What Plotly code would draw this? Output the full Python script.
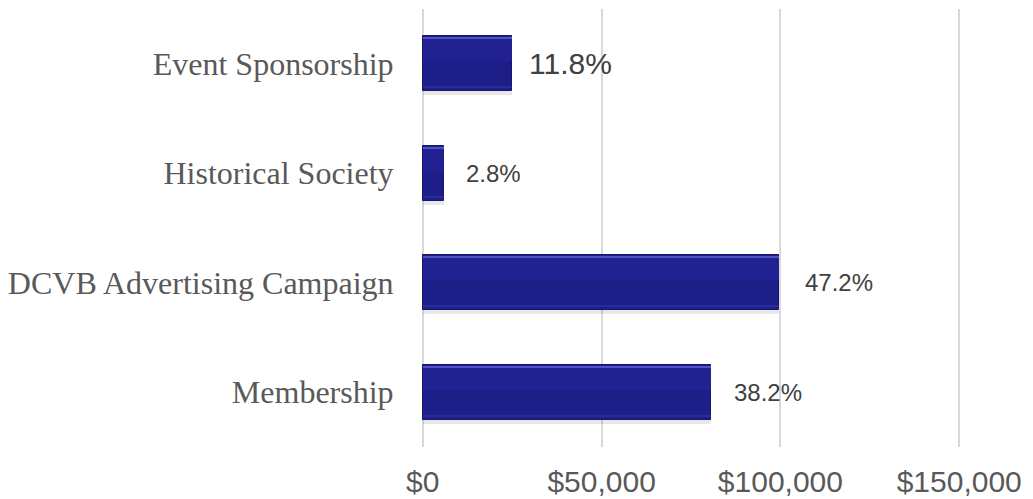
import plotly.graph_objects as go

# Marketing spend by program (USD), listed top to bottom
categories = ["Event Sponsorship", "Historical Society", "DCVB Advertising Campaign", "Membership"]
spend = [24900, 5900, 99700, 80700]
label_sizes = [30, 24, 24, 24]
label_gaps = [15, 20, 24, 21]

x_ticks = [0, 50000, 100000, 150000]
x_tick_labels = ["$0", "$50,000", "$100,000", "$150,000"]

total = sum(spend)
shares = [v / total * 100 for v in spend]

BAR_W = 0.5
PX = 1 / 109.5  # one pixel in category units

fig = go.Figure()

# soft drop shadow under each bar
fig.add_trace(go.Bar(
    y=categories, x=spend, orientation="h",
    width=BAR_W, offset=-BAR_W / 2 + 4 * PX,
    marker=dict(color="rgba(0,0,0,0.09)", line=dict(width=0)),
    hoverinfo="skip", showlegend=False,
))
# bar body
fig.add_trace(go.Bar(
    y=categories, x=spend, orientation="h",
    width=BAR_W, offset=-BAR_W / 2,
    marker=dict(color="#1e1e88", line=dict(color="#16166c", width=1)),
    hoverinfo="skip", showlegend=False,
))
# upper part a touch lighter for the bevelled look
fig.add_trace(go.Bar(
    y=categories, x=spend, orientation="h",
    width=BAR_W * 0.4, offset=-BAR_W / 2 + 3 * PX,
    marker=dict(color="#212192", line=dict(width=0)),
    hoverinfo="skip", showlegend=False,
))
# top highlight edge
fig.add_trace(go.Bar(
    y=categories, x=spend, orientation="h",
    width=2 * PX, offset=-BAR_W / 2 + 1 * PX,
    marker=dict(color="#5252c4", line=dict(width=0)),
    hoverinfo="skip", showlegend=False,
))
# lower lip highlight
fig.add_trace(go.Bar(
    y=categories, x=spend, orientation="h",
    width=2 * PX, offset=BAR_W / 2 - 5 * PX,
    marker=dict(color="#2a2a9c", line=dict(width=0)),
    hoverinfo="skip", showlegend=False,
))

# percentage labels to the right of each bar
for cat, v, pct, fs, gap in zip(categories, spend, shares, label_sizes, label_gaps):
    fig.add_annotation(
        x=v, y=cat, xref="x", yref="y",
        text=f"{pct:.1f}%", showarrow=False,
        xanchor="left", yanchor="middle", xshift=gap,
        font=dict(family="Liberation Sans, Arial, sans-serif", size=fs, color="#404040"),
    )

fig.update_layout(
    width=1033, height=499,
    margin=dict(l=421, r=72, t=9, b=52),
    paper_bgcolor="white", plot_bgcolor="white",
    barmode="overlay", bargap=0,
    showlegend=False,
)
fig.update_xaxes(
    range=[-500, 150500], automargin=False,
    tickvals=x_ticks, ticktext=x_tick_labels,
    showgrid=True, gridcolor="#d9d9d9", gridwidth=1.5,
    zeroline=False, showline=False,
    ticks="outside", ticklen=8, tickcolor="rgba(0,0,0,0)",
    tickfont=dict(family="Liberation Sans, Arial, sans-serif", size=30, color="#595959"),
)
fig.update_yaxes(
    categoryorder="array", categoryarray=categories,
    autorange="reversed", automargin=False,
    showgrid=False, zeroline=False, showline=False,
    ticks="outside", ticklen=20, tickcolor="rgba(0,0,0,0)",
    tickfont=dict(family="Liberation Serif, Times New Roman, serif", size=32, color="#595959"),
)

fig.write_html("out.html")
